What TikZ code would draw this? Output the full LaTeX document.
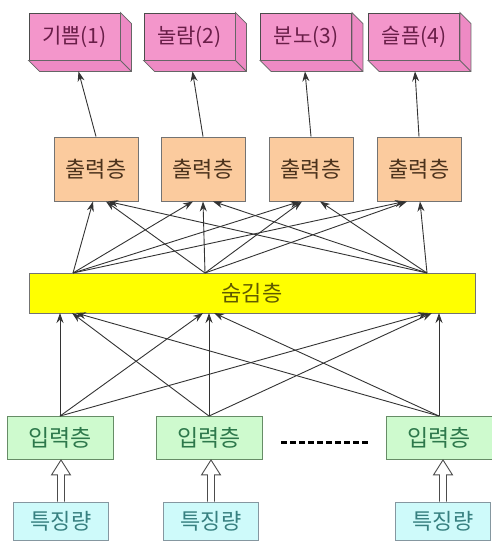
\documentclass[tikz,border=0pt]{standalone}
\usepackage{fontspec}
\setmainfont{Noto Sans CJK KR}
\usetikzlibrary{arrows.meta}

\definecolor{emofill}{RGB}{243,150,203}
\definecolor{emoside}{RGB}{238,138,196}
\definecolor{emotext}{RGB}{105,30,72}
\definecolor{outfill}{RGB}{251,203,158}
\definecolor{outtext}{RGB}{75,50,28}
\definecolor{hidfill}{RGB}{255,255,0}
\definecolor{hidtext}{RGB}{95,90,0}
\definecolor{infill}{RGB}{206,250,206}
\definecolor{intext}{RGB}{45,120,75}
\definecolor{featfill}{RGB}{206,250,250}
\definecolor{feattext}{RGB}{55,128,128}

\begin{document}
\begin{tikzpicture}[x=1pt,y=1pt,
  emo node/.style={rectangle,fill=emofill,draw=black!70,line width=0.9pt,text=emotext,minimum width=91pt,minimum height=47pt,inner sep=0pt,font=\fontsize{21}{24}\selectfont},
  emo side/.style={fill=emoside,draw=black!60,line width=0.8pt},
  out node/.style={rectangle,fill=outfill,draw=black!55,line width=0.9pt,text=outtext,minimum width=84pt,minimum height=64pt,inner sep=0pt,font=\fontsize{22}{26}\selectfont},
  hid node/.style={rectangle,fill=hidfill,draw=black!55,line width=0.9pt,text=hidtext,minimum width=446pt,minimum height=40pt,inner sep=0pt,font=\fontsize{22}{26}\selectfont},
  in node/.style={rectangle,fill=infill,draw=green!25!black!60,line width=0.9pt,text=intext,minimum width=106pt,minimum height=43pt,inner sep=0pt,font=\fontsize{23}{27}\selectfont},
  feat node/.style={rectangle,fill=featfill,draw=cyan!30!black!60,line width=0.9pt,text=feattext,minimum width=95pt,minimum height=38pt,inner sep=0pt,font=\fontsize{22}{26}\selectfont},
  link/.style={draw=black!80,line width=0.9pt,-{Stealth[length=10pt,width=7pt]}},
  feat arrow/.style={draw=black!70,fill=white,line width=0.9pt,line join=miter},
  dot line/.style={line width=3pt,dash pattern=on 6pt off 3pt}]

  \useasboundingbox (0,0) rectangle (491,541);

  % emotions (3d boxes)
  \node[emo node] (e1) at (74.5,504.5) {기쁨(1)};
  \node[emo node] (e2) at (189.5,504.5) {놀람(2)};
  \node[emo node] (e3) at (306,504.5) {분노(3)};
  \node[emo node] (e4) at (414,504.5) {슬픔(4)};
  \foreach \n in {e1,e2,e3,e4}{
    \filldraw[emo side] (\n.north east) -- ([shift={(11,-11)}]\n.north east) -- ([shift={(11,-11)}]\n.south east)
      -- ([shift={(11,-11)}]\n.south west) -- (\n.south west) -- (\n.south east) -- cycle;
    \draw[emo side] (\n.south east) -- ([shift={(11,-11)}]\n.south east);
  }

  % output layer
  \node[out node] (o1) at (96,372) {출력층};
  \node[out node] (o2) at (203,372) {출력층};
  \node[out node] (o3) at (311,372) {출력층};
  \node[out node] (o4) at (419,372) {출력층};

  % hidden layer
  \node[hid node] (h) at (252,248) {숨김층};
  \coordinate (ht1) at (73,268);
  \coordinate (ht2) at (205,268);
  \coordinate (ht3) at (427,268);
  \coordinate (hb1) at (68,228);
  \coordinate (hb2) at (209,228);
  \coordinate (hb3) at (434,228);

  % input layer
  \node[in node] (i1) at (60,103) {입력층};
  \node[in node] (i2) at (209,103) {입력층};
  \node[in node] (i3) at (439,103) {입력층};
  \coordinate (dl) at (281,98);
  \coordinate (dr) at (368,98);
  \draw[dot line] (dl) -- (dr);

  % features
  \node[feat node] (f1) at (61,20) {특징량};
  \node[feat node] (f2) at (211,20) {특징량};
  \node[feat node] (f3) at (443,20) {특징량};

  \path[every edge/.style={link}]
    (o1.north) edge ([shift={(4,-11)}]e1.south)
    (o2.north) edge ([shift={(3,-11)}]e2.south)
    (o3.north) edge ([shift={(-1,-11)}]e3.south)
    (o4.north) edge ([shift={(1,-11)}]e4.south)
    ;

  \path[every edge/.style={link}]
    (ht1) edge ([xshift=-3]o1.south)
    (ht2) edge ([xshift=10]o1.south)
    (ht3) edge ([xshift=12]o1.south)
    (ht1) edge ([xshift=-10]o2.south)
    (ht2) edge (o2.south)
    (ht3) edge ([xshift=10]o2.south)
    (ht1) edge ([xshift=-11]o3.south)
    (ht2) edge ([xshift=-9]o3.south)
    (ht3) edge ([xshift=9]o3.south)
    (ht1) edge ([xshift=-14]o4.south)
    (ht2) edge ([xshift=-12]o4.south)
    (ht3) edge ([xshift=1]o4.south)
    ;

  \path[every edge/.style={link}]
    (i1.north) edge ([xshift=-8]hb1)
    (i1.north) edge ([xshift=-6]hb2)
    (i1.north) edge ([xshift=-6]hb3)
    (i2.north) edge ([xshift=4]hb1)
    (i2.north) edge (hb2)
    (i2.north) edge ([xshift=-2]hb3)
    (i3.north) edge ([xshift=8]hb1)
    (i3.north) edge ([xshift=5]hb2)
    (i3.north) edge ([xshift=5]hb3)
    ;

  % hollow arrows feature -> input
  \foreach \f/\i in {f1/i1,f2/i2,f3/i3}{
    \coordinate (t) at (\f.north |- \i.south);
    \filldraw[feat arrow] ([xshift=-3.5]\f.north) -- ([shift={(-3.5,-15)}]t) -- ([shift={(-9.5,-15)}]t) -- (t)
      -- ([shift={(9.5,-15)}]t) -- ([shift={(3.5,-15)}]t) -- ([xshift=3.5]\f.north);
  }

\end{tikzpicture}
\end{document}
